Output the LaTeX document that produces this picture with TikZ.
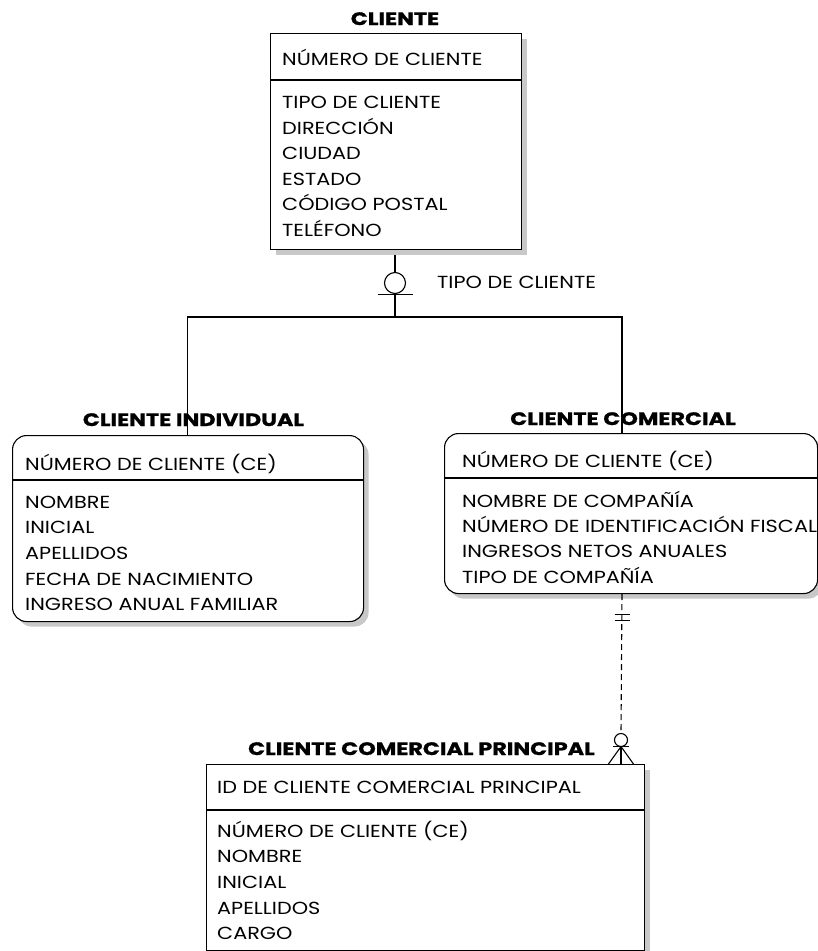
\documentclass[tikz,border=0pt]{standalone}
\usepackage{fontspec}
\setmainfont[FakeStretch=1.19]{Poppins}
\newfontfamily\ttlfont[FakeStretch=1.24, FakeBold=1]{Poppins}
\usetikzlibrary{shadows,calc}
\definecolor{shadowgray}{RGB}{200,200,200}
\tikzset{
  ent/.style={draw=black, line width=1.1pt, fill=white, inner sep=0pt, anchor=north west,
    drop shadow={shadow xshift=5pt, shadow yshift=-5pt, fill=shadowgray, opacity=1}},
  rent/.style={ent, rounded corners=14pt},
  txt/.style={anchor=base west, inner sep=0pt, font=\fontsize{17.5}{20}\selectfont},
  ttl/.style={anchor=base, inner sep=0pt, font=\ttlfont\fontsize{18}{20}\selectfont\bfseries},
  ln/.style={line width=1.1pt},
}
\begin{document}
\begin{tikzpicture}[x=1pt,y=-1pt]
\useasboundingbox[fill=white] (0,0) rectangle (818,951);

% connectors (drawn first so boxes sit on top)
\coordinate (hub) at (395,317);
\coordinate (comtop) at (622,433);
\coordinate (indtop) at (187.5,435);
\draw[ln] (395,249) coordinate (clibot) -- (hub);
\draw[ln] (indtop) |- (comtop |- hub) -- (comtop);

% CLIENTE
\node[ent, minimum width=251pt, minimum height=216pt] (cli) at (270,33) {};
\draw[ln] ($(cli.north west)+(0,47)$) -- ($(cli.north east)+(0,47)$);
\node[ttl] (clit) at (395,25) {CLIENTE};
\node[txt] (clik) at (282,65.7) {NÚMERO DE CLIENTE};
\foreach \t [count=\i] in {{TIPO DE CLIENTE},{DIRECCIÓN},{CIUDAD},{ESTADO},{CÓDIGO POSTAL},{TELÉFONO}}
  \node[txt] (cla\i) at (282,{108.5+25.6*(\i-1)}) {\t};

% subtype symbol
\node[circle, draw, ln, fill=white, minimum size=21pt, inner sep=0pt] (sub) at (395,283) {};
\draw[ln] ([xshift=-17.5pt]sub.south) -- ([xshift=17.5pt]sub.south);
\node[txt] (subl) at (437,288) {TIPO DE CLIENTE};

% CLIENTE INDIVIDUAL
\node[rent, minimum width=351pt, minimum height=186pt] (ind) at (12,435) {};
\draw[ln] ($(ind.north west)+(0,45)$) -- ($(ind.north east)+(0,45)$);
\draw[ln] (indtop |- 0,400) -- (indtop);
\node[ttl] (indt) at (193.5,426) {CLIENTE INDIVIDUAL};
\node[txt] (indk) at (25,470) {NÚMERO DE CLIENTE (CE)};
\foreach \t [count=\i] in {{NOMBRE},{INICIAL},{APELLIDOS},{FECHA DE NACIMIENTO},{INGRESO ANUAL FAMILIAR}}
  \node[txt] (inda\i) at (25,{508+25.7*(\i-1)}) {\t};

% CLIENTE COMERCIAL
\node[rent, minimum width=373pt, minimum height=160pt] (com) at (444,433) {};
\draw[ln] ($(com.north west)+(0,45)$) -- ($(com.north east)+(0,45)$);
\draw[ln] (comtop |- 0,400) -- (comtop);
\node[ttl] (comt) at (623,425) {CLIENTE COMERCIAL};
\node[txt] (comk) at (462,467) {NÚMERO DE CLIENTE (CE)};
\foreach \t [count=\i] in {{NOMBRE DE COMPAÑÍA},{NÚMERO DE IDENTIFICACIÓN FISCAL},{INGRESOS NETOS ANUALES},{TIPO DE COMPAÑÍA}}
  \node[txt] (coma\i) at (462,{507+25.4*(\i-1)}) {\t};

% CLIENTE COMERCIAL PRINCIPAL
\node[ent, minimum width=438pt, minimum height=186pt] (pri) at (206,764) {};
\draw[ln] ($(pri.north west)+(0,46)$) -- ($(pri.north east)+(0,46)$);
\node[ttl] (prit) at (421.5,755) {CLIENTE COMERCIAL PRINCIPAL};
\node[txt] (prik) at (217,793) {ID DE CLIENTE COMERCIAL PRINCIPAL};
\foreach \t [count=\i] in {{NÚMERO DE CLIENTE (CE)},{NOMBRE},{INICIAL},{APELLIDOS},{CARGO}}
  \node[txt] (pria\i) at (217,{837+25.7*(\i-1)}) {\t};

% relationship comercial -> principal
\coordinate (dtop) at (comtop |- com.south);
\node[circle, draw, ln, fill=white, minimum size=13pt, inner sep=0pt] (zero) at (621,740) {};
\coordinate (apex) at ([yshift=0.5pt]zero.south);
\coordinate (foot) at (621,764);
\draw[ln, dash pattern=on 6pt off 4pt] (dtop) -- (zero.north);
\draw[ln] ($(dtop)+(-7.5,20)$) -- ($(dtop)+(7.5,20)$);
\draw[ln] ($(dtop)+(-7.5,26)$) -- ($(dtop)+(7.5,26)$);
\draw[ln] ([xshift=-8pt]apex) -- ([xshift=8pt]apex);
\draw[ln] (zero.south) -- (foot);
\draw[ln] (apex) -- ($(foot)+(-12.5,0)$);
\draw[ln] (apex) -- ($(foot)+(12.5,0)$);
\end{tikzpicture}
\end{document}
